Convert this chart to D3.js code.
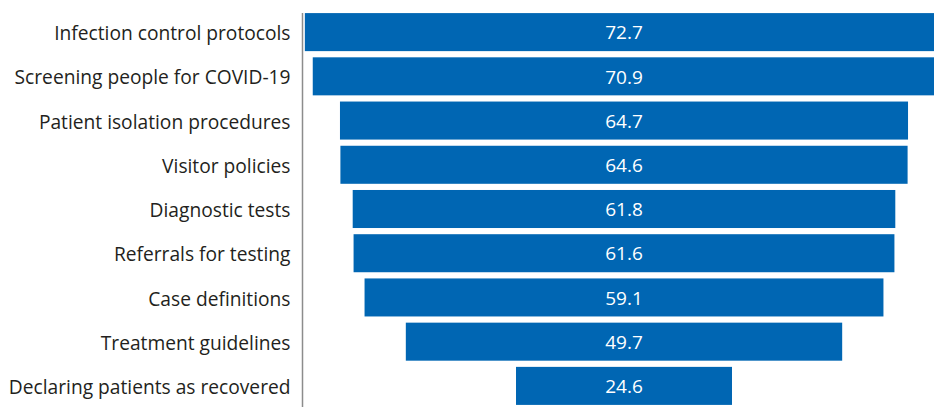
<!DOCTYPE html>
<html>
<head>
<meta charset="utf-8" />
<script src="https://cdnjs.cloudflare.com/ajax/libs/d3/7.8.5/d3.min.js"></script>
<style>
  body { margin: 0; background: white; }
  svg { display: block; }
</style>
</head>
<body>
<div id="chart"></div>
<script>
var categories = [
  "Infection control protocols",
  "Screening people for COVID-19",
  "Patient isolation procedures",
  "Visitor policies",
  "Diagnostic tests",
  "Referrals for testing",
  "Case definitions",
  "Treatment guidelines",
  "Declaring patients as recovered"
];
var values = [72.7, 70.9, 64.7, 64.6, 61.8, 61.6, 59.1, 49.7, 24.6];

var w = 934, h = 407;
var axisX = 302.5, center = 624;

var svg = d3.select("#chart").append("svg")
  .attr("width", w)
  .attr("height", h);

var yScale = d3.scaleBand()
  .domain(categories)
  .range([10, 408])
  .paddingInner(0.14)
  .paddingOuter(0.07);

// width of a bar, centred on the funnel axis
var wScale = d3.scaleLinear()
  .domain([0, 100])
  .range([0, 878]);

svg.selectAll("rect.bar")
  .data(values)
  .enter().append("rect")
  .attr("class", "bar")
  .attr("x", function (d) { return center - wScale(d) / 2; })
  .attr("y", function (d, i) { return yScale(categories[i]); })
  .attr("width", function (d) { return wScale(d); })
  .attr("height", yScale.bandwidth())
  .style("fill", "#0066b3");

svg.selectAll("text.val")
  .data(values)
  .enter().append("text")
  .attr("class", "val")
  .attr("x", center)
  .attr("y", function (d, i) { return yScale(categories[i]) + yScale.bandwidth() / 2; })
  .attr("dy", "0.38em")
  .attr("text-anchor", "middle")
  .style("font-family", "'Open Sans', sans-serif")
  .style("font-size", "19px")
  .style("fill", "white")
  .text(function (d) { return d.toFixed(1); });

var yAxis = d3.axisLeft(yScale).tickSize(0).tickPadding(12);

var gAxis = svg.append("g")
  .attr("transform", "translate(" + axisX + ",0)")
  .call(yAxis);

gAxis.select(".domain").remove();
gAxis.append("line")
  .attr("x1", 0).attr("x2", 0)
  .attr("y1", 13).attr("y2", h)
  .style("stroke", "#8c8c8c")
  .style("stroke-width", 1.5);

gAxis.selectAll(".tick text")
  .attr("dy", "0.42em")
  .style("font-family", "'Open Sans', sans-serif")
  .style("font-size", "19.2px")
  .style("fill", "#231f20");
</script>
</body>
</html>
